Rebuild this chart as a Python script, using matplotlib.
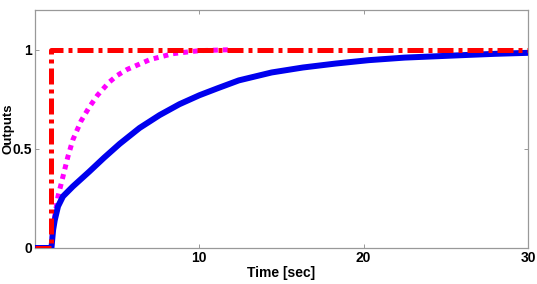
import matplotlib.pyplot as plt
from matplotlib import font_manager

# values
t_step = [0, 1, 1, 30]
y_step = [0, 0, 1, 1]

t_fast = [1.0, 1.1, 1.4, 1.7, 2.0, 2.3, 2.8, 3.3, 3.8, 4.5, 5.0, 5.6, 7.0, 8.4, 10.0, 12.0]
y_fast = [0.0, 0.11, 0.26, 0.36, 0.46, 0.545, 0.64, 0.71, 0.77, 0.835, 0.87, 0.90, 0.95, 0.98, 0.995, 1.0]

t_slow = [0.0, 1.0, 1.1, 1.2, 1.4, 1.7, 2.3, 3.3, 4.2, 5.15, 6.36, 7.58, 8.79, 10.0, 11.1,
          12.4, 14.4, 16.3, 18.3, 20.3, 22.5, 24.5, 26.2, 28.0, 30.0]
y_slow = [0.0, 0.0, 0.09, 0.14, 0.21, 0.26, 0.31, 0.385, 0.455, 0.525, 0.605, 0.67, 0.725, 0.77, 0.805,
          0.845, 0.885, 0.91, 0.93, 0.947, 0.96, 0.967, 0.973, 0.979, 0.984]

names = {f.name for f in font_manager.fontManager.ttflist}
fam = 'Liberation Sans Narrow' if 'Liberation Sans Narrow' in names else 'Liberation Sans'
plt.rcParams['font.family'] = [fam, 'DejaVu Sans']

fig = plt.figure(figsize=(5.37, 2.84), dpi=100)
ax = fig.add_axes([0.0652, 0.1268, 0.918, 0.838])

ax.plot(t_fast, y_fast, color='#ff00ff', linestyle=(0, (1.0, 1.0)), linewidth=3.6,
        dash_capstyle='butt', zorder=2)
ax.plot(t_slow, y_slow, color='#0000ee', linewidth=4.3, solid_joinstyle='round', zorder=3)
ax.plot(t_step, y_step, color='#ff0000', linestyle=(0, (3.2, 1.0, 0.8, 1.0)), linewidth=3.6,
        dash_capstyle='butt', zorder=4)

ax.set_xlim(0, 30)
ax.set_ylim(0, 1.2)
ax.set_xticks([10, 20, 30])
ax.set_yticks([0, 0.5, 1])
ax.set_yticklabels(['0', '0.5', '1'])
ax.tick_params(direction='in', length=3, width=0.6, color='#888888',
               top=True, right=True, labelsize=10, pad=2)
for lab in ax.get_xticklabels() + ax.get_yticklabels():
    lab.set_fontweight('bold')
for s in ax.spines.values():
    s.set_color('#999999')
    s.set_linewidth(0.9)

ax.set_xlabel('Time [sec]', fontsize=10, fontweight='bold', labelpad=1)
ax.set_ylabel('Outputs', fontsize=9.5, fontweight='bold')
ax.yaxis.set_label_coords(-0.041, 0.5)

fig.savefig('out.png', dpi=100)
